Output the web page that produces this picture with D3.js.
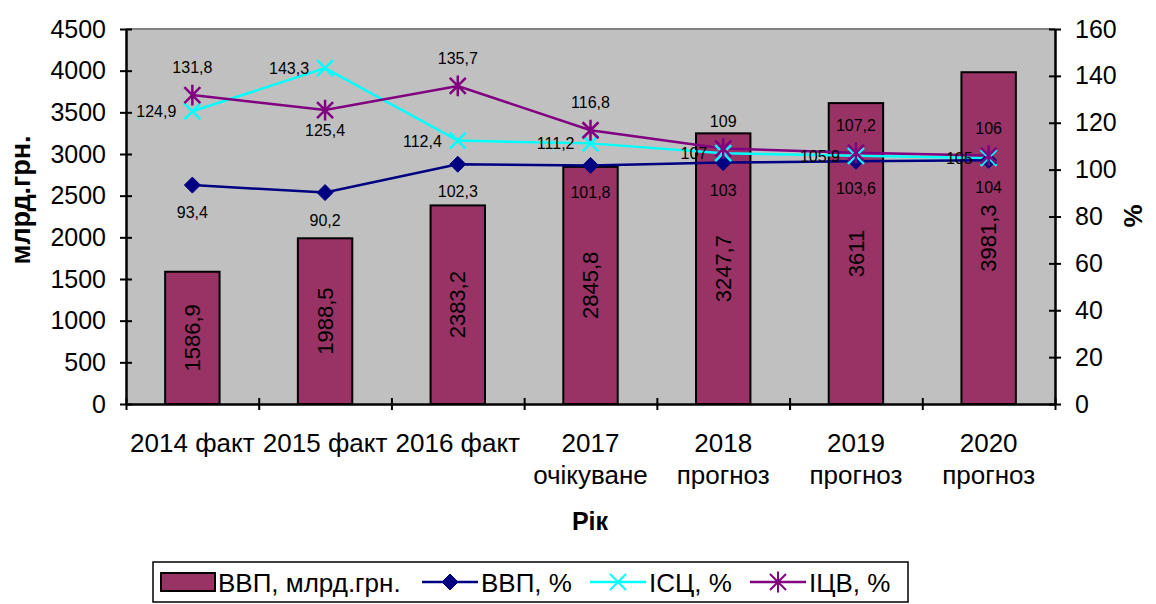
<!DOCTYPE html>
<html>
<head>
<meta charset="utf-8">
<script src="https://cdn.jsdelivr.net/npm/d3@7"></script>
<style>
  body { margin: 0; background: #fff; }
  text { font-family: "Liberation Sans", Arial, sans-serif; fill: #000; }
</style>
</head>
<body>
<script>
var w = 1156;
var h = 604;

// categories (two-line labels)
var categories = ["2014 факт", "2015 факт", "2016 факт", "2017 очікуване", "2018 прогноз", "2019 прогноз", "2020 прогноз"];
var catLine1 = ["2014 факт", "2015 факт", "2016 факт", "2017", "2018", "2019", "2020"];
var catLine2 = ["", "", "", "очікуване", "прогноз", "прогноз", "прогноз"];

// series
var gdpValues = [1586.9, 1988.5, 2383.2, 2845.8, 3247.7, 3611, 3981.3];
var gdpLabels = ["1586,9", "1988,5", "2383,2", "2845,8", "3247,7", "3611", "3981,3"];
var gdpPct = [93.4, 90.2, 102.3, 101.8, 103, 103.6, 104];
var cpiPct = [124.9, 143.3, 112.4, 111.2, 107, 105.9, 105];
var ppiPct = [131.8, 125.4, 135.7, 116.8, 109, 107.2, 106];
var ppiLabelSide = ["above", "below", "above", "above", "above", "above", "above"];

var leftTicks = [0, 500, 1000, 1500, 2000, 2500, 3000, 3500, 4000, 4500];
var rightTicks = [0, 20, 40, 60, 80, 100, 120, 140, 160];

var pLeft = 126, pRight = 1055, pTop = 29, pBottom = 404;

function fmt(v) { return String(v).replace(".", ","); }

var svg = d3.select("body").append("svg")
            .attr("width", w)
            .attr("height", h);

var x = d3.scaleBand()
          .domain(categories)
          .range([pLeft, pRight])
          .paddingInner(0.59)
          .paddingOuter(0.295);

var xb = d3.scaleLinear().domain([0, categories.length]).range([pLeft, pRight]);

var yL = d3.scaleLinear().domain([0, 4500]).range([pBottom, pTop]);
var yR = d3.scaleLinear().domain([0, 160]).range([pBottom, pTop]);

// plot area
svg.append("rect")
   .attr("x", pLeft).attr("y", pTop)
   .attr("width", pRight - pLeft).attr("height", pBottom - pTop)
   .attr("fill", "#c0c0c0");
svg.append("line")
   .attr("x1", pLeft).attr("x2", pRight)
   .attr("y1", pTop).attr("y2", pTop)
   .attr("stroke", "#808080").attr("stroke-width", 2);

// bars
svg.selectAll("rect.bar")
   .data(gdpValues)
   .enter()
   .append("rect")
   .attr("class", "bar")
   .attr("x", function(d, i) { return x(categories[i]); })
   .attr("y", function(d) { return yL(d); })
   .attr("width", x.bandwidth())
   .attr("height", function(d) { return pBottom - yL(d); })
   .attr("fill", "#993366")
   .attr("stroke", "#000")
   .attr("stroke-width", 2);

svg.selectAll("text.barlabel")
   .data(gdpValues)
   .enter()
   .append("text")
   .attr("class", "barlabel")
   .attr("transform", function(d, i) {
     var cx = x(categories[i]) + x.bandwidth() / 2;
     var cy = (yL(d) + pBottom) / 2;
     return "translate(" + cx + "," + cy + ") rotate(-90)";
   })
   .attr("text-anchor", "middle")
   .attr("dy", "0.35em")
   .style("font-size", "22px")
   .text(function(d, i) { return gdpLabels[i]; });

// axes
function crossTicks(g, horiz) {
  g.selectAll(".tick line")
   .attr(horiz ? "y1" : "x1", -6)
   .attr(horiz ? "y2" : "x2", 6)
   .attr("stroke-width", 2);
  g.select(".domain").attr("stroke-width", 2.5);
}

var gLeft = svg.append("g")
   .attr("transform", "translate(" + pLeft + ",0)")
   .call(d3.axisLeft(yL).tickValues(leftTicks).tickFormat(d3.format("d")).tickSizeOuter(0).tickPadding(14));
crossTicks(gLeft, false);
gLeft.selectAll("text").style("font-size", "25px");

var gRight = svg.append("g")
   .attr("transform", "translate(" + pRight + ",0)")
   .call(d3.axisRight(yR).tickValues(rightTicks).tickFormat(d3.format("d")).tickSizeOuter(0).tickPadding(14));
crossTicks(gRight, false);
gRight.selectAll("text").style("font-size", "25px");

var gBottom = svg.append("g")
   .attr("transform", "translate(0," + pBottom + ")")
   .call(d3.axisBottom(xb).ticks(categories.length).tickFormat("").tickSizeOuter(0));
crossTicks(gBottom, true);

// category labels
svg.selectAll("text.cat1")
   .data(catLine1)
   .enter()
   .append("text")
   .attr("x", function(d, i) { return x(categories[i]) + x.bandwidth() / 2; })
   .attr("y", 452)
   .attr("text-anchor", "middle")
   .style("font-size", "26px")
   .text(function(d) { return d; });

svg.selectAll("text.cat2")
   .data(catLine2)
   .enter()
   .append("text")
   .attr("x", function(d, i) { return x(categories[i]) + x.bandwidth() / 2; })
   .attr("y", 484)
   .attr("text-anchor", "middle")
   .style("font-size", "26px")
   .text(function(d) { return d; });

// axis titles
svg.append("text")
   .attr("x", 590).attr("y", 530)
   .attr("text-anchor", "middle")
   .style("font-size", "25px").style("font-weight", "bold")
   .text("Рік");
svg.append("text")
   .attr("transform", "translate(30,200) rotate(-90)")
   .attr("text-anchor", "middle")
   .style("font-size", "27px").style("font-weight", "bold")
   .text("млрд.грн.");
svg.append("text")
   .attr("transform", "translate(1142,216) rotate(-90)")
   .attr("text-anchor", "middle")
   .style("font-size", "26px").style("font-weight", "bold")
   .text("%");

// lines
function cx(i) { return x(categories[i]) + x.bandwidth() / 2; }
var line = d3.line()
             .x(function(d, i) { return cx(i); })
             .y(function(d) { return yR(d); });

var series = [
  { values: gdpPct, color: "#000080", marker: "diamond" },
  { values: cpiPct, color: "#00ffff", marker: "x" },
  { values: ppiPct, color: "#800080", marker: "star" }
];

function markerPath(type, s) {
  if (type === "diamond") return "M0," + (-s) + "L" + s + ",0L0," + s + "L" + (-s) + ",0Z";
  if (type === "x") return "M" + (-s) + "," + (-s) + "L" + s + "," + s + "M" + (-s) + "," + s + "L" + s + "," + (-s);
  return "M" + (-s) + "," + (-s) + "L" + s + "," + s + "M" + (-s) + "," + s + "L" + s + "," + (-s) + "M0," + (-s * 1.3) + "L0," + (s * 1.3);
}

series.forEach(function(s) {
  svg.append("path")
     .datum(s.values)
     .attr("d", line)
     .attr("fill", "none")
     .attr("stroke", s.color)
     .attr("stroke-width", 2.5);
});

series.forEach(function(s) {
  svg.selectAll(null)
     .data(s.values)
     .enter()
     .append("path")
     .attr("transform", function(d, i) { return "translate(" + cx(i) + "," + yR(d) + ")"; })
     .attr("d", markerPath(s.marker, 8))
     .attr("fill", s.marker === "diamond" ? s.color : "none")
     .attr("stroke", s.color)
     .attr("stroke-width", s.marker === "diamond" ? 1 : 2.5);
});

// data labels
svg.selectAll("text.gdppct")
   .data(gdpPct)
   .enter()
   .append("text")
   .attr("x", function(d, i) { return cx(i); })
   .attr("y", function(d) { return yR(d) + 33; })
   .attr("text-anchor", "middle")
   .style("font-size", "16px")
   .text(fmt);

svg.selectAll("text.cpipct")
   .data(cpiPct)
   .enter()
   .append("text")
   .attr("x", function(d, i) { return cx(i) - 16; })
   .attr("y", function(d) { return yR(d) + 6; })
   .attr("text-anchor", "end")
   .style("font-size", "16px")
   .text(fmt);

svg.selectAll("text.ppipct")
   .data(ppiPct)
   .enter()
   .append("text")
   .attr("x", function(d, i) { return cx(i); })
   .attr("y", function(d, i) { return ppiLabelSide[i] === "above" ? yR(d) - 22 : yR(d) + 26; })
   .attr("text-anchor", "middle")
   .style("font-size", "16px")
   .text(fmt);

// legend
var lg = svg.append("g");
lg.append("rect")
  .attr("x", 153).attr("y", 562).attr("width", 755).attr("height", 40)
  .attr("fill", "#fff").attr("stroke", "#000").attr("stroke-width", 1.5);

lg.append("rect")
  .attr("x", 161).attr("y", 573).attr("width", 54).attr("height", 18)
  .attr("fill", "#993366").attr("stroke", "#000").attr("stroke-width", 2);
lg.append("text").attr("x", 218).attr("y", 592).style("font-size", "26px").text("ВВП, млрд.грн.");

var legendLines = [
  { x: 422, color: "#000080", marker: "diamond", label: "ВВП, %" },
  { x: 590, color: "#00ffff", marker: "x", label: "ІСЦ, %" },
  { x: 750, color: "#800080", marker: "star", label: "ІЦВ, %" }
];
legendLines.forEach(function(l) {
  lg.append("line")
    .attr("x1", l.x).attr("x2", l.x + 56)
    .attr("y1", 582).attr("y2", 582)
    .attr("stroke", l.color).attr("stroke-width", 2.5);
  lg.append("path")
    .attr("transform", "translate(" + (l.x + 28) + ",582)")
    .attr("d", markerPath(l.marker, 8))
    .attr("fill", l.marker === "diamond" ? l.color : "none")
    .attr("stroke", l.color)
    .attr("stroke-width", l.marker === "diamond" ? 1 : 2);
  lg.append("text").attr("x", l.x + 59).attr("y", 592).style("font-size", "26px").text(l.label);
});
</script>
</body>
</html>
